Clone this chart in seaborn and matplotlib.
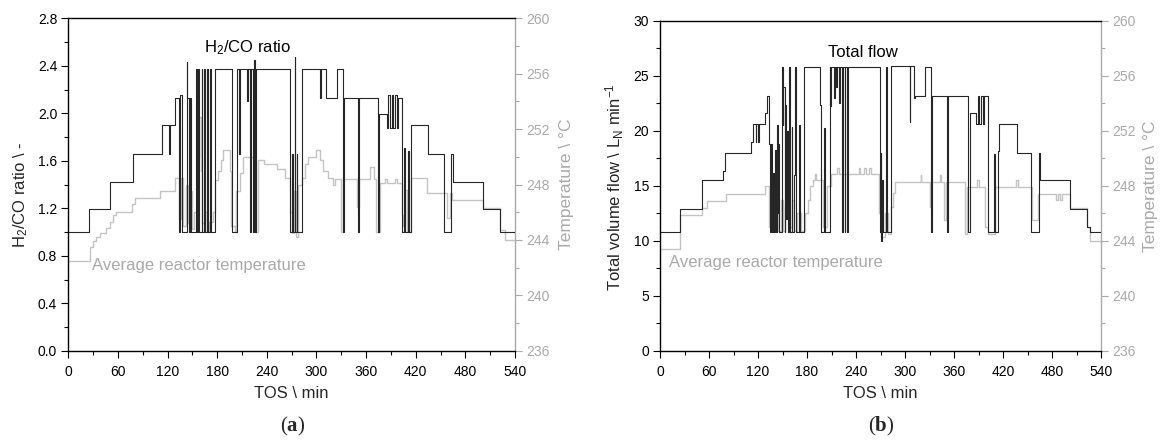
import matplotlib
matplotlib.use("Agg")
import matplotlib.pyplot as plt
import pandas as pd
import seaborn as sns
from matplotlib.ticker import MultipleLocator

# ---------------- data (step breakpoints) ----------------
ratio_t = [0, 24.7, 50.7, 78.6, 113.1, 121.5, 122.5, 129.3, 134.2, 135.5, 137, 143.1, 144, 145.5,
           147, 148, 154, 155, 157, 158.5, 161, 162, 164, 165.5, 167.5, 169, 171, 172.5, 177.3,
           197.5, 198, 203.6, 206, 207, 216.5, 217.5, 220, 221, 223, 224, 225.5, 227, 268, 270,
           271, 273.5, 274.5, 276, 277, 282, 304, 305.5, 311, 324.5, 332.5, 333.5, 350.5, 351.5,
           374.8, 376, 385, 387, 389, 391, 393, 395, 397, 399, 403, 406, 407, 411, 412, 414.3,
           435, 454.3, 462.4, 464.5, 501.7, 521.9, 540]
ratio_v = [1.0, 1.19, 1.42, 1.66, 1.90, 1.66, 1.90, 2.13, 1.0, 2.15, 1.0, 2.43, 2.13, 1.0,
           2.13, 1.0, 2.37, 1.0, 2.37, 1.0, 2.37, 1.0, 2.37, 1.0, 2.37, 1.0, 2.37, 1.0, 2.37,
           1.90, 1.0, 2.37, 1.66, 2.37, 2.10, 2.37, 1.0, 2.37, 1.0, 2.45, 1.0, 2.37, 1.0, 1.66,
           1.0, 2.47, 1.0, 1.66, 1.0, 2.37, 2.13, 2.37, 2.13, 2.37, 1.0, 2.13, 1.0, 2.13,
           1.0, 1.99, 1.88, 2.15, 1.88, 2.15, 1.88, 2.15, 1.88, 2.13, 1.0, 1.71, 1.0, 1.68, 1.0, 1.90,
           1.66, 1.0, 1.66, 1.42, 1.19, 1.0, 1.0]

tempA_t = [0, 26, 30, 34, 38, 45, 50, 54, 58, 77, 81, 111, 129, 134, 136, 139, 142, 145, 147,
           149, 152, 155, 158.4, 160, 162, 165, 168, 170, 175, 177.4, 181, 184, 187.4, 195.4,
           197, 201, 203, 207, 211, 224, 226, 229, 236, 252, 262, 268, 270, 273, 275, 278,
           282, 286, 290, 300, 304, 308, 314, 320, 322, 330, 332, 334, 349, 351, 365, 370,
           372, 377, 383, 385, 395, 397, 403, 405, 407, 410, 414, 433, 458, 461.4, 463.5,
           501.7, 521.9, 528, 540]
tempA_v = [242.5, 243.5, 243.9, 244.2, 244.5, 244.9, 245.3, 245.8, 246.0, 246.6, 247.0, 247.5,
           248.5, 245.5, 248.5, 245.0, 248.0, 245.2, 247.5, 244.8, 246.0, 250.0, 252.9, 249.0,
           245.2, 246.0, 244.6, 245.3, 246.0, 248.3, 249.0, 249.8, 250.5, 249.0, 245.0, 244.6,
           247.5, 248.8, 250.0, 249.8, 244.6, 249.8, 249.5, 249.1, 248.5, 246.0, 244.5, 247.5,
           244.2, 248.0, 248.5, 249.5, 250.0, 250.5, 249.8, 249.0, 248.5, 248.0, 248.4, 244.6,
           248.4, 248.4, 246.4, 248.4, 249.3, 248.4, 244.6, 248.1, 248.4, 248.1, 248.4, 248.1,
           245.8, 245.0, 247.6, 244.6, 248.5, 247.4, 245.6, 247.4, 246.9, 246.3, 244.7, 244.0, 244.0]

flow_t = [0, 24.9, 51.2, 77, 79.3, 111, 113.8, 117, 118, 120, 121, 128.3, 130.6, 133.7, 134.5,
          136, 137, 138.5, 139.5, 141, 142, 143, 144, 145, 146, 149, 150, 151, 152.5, 153.5,
          154.5, 155.5, 156.5, 158, 159, 161, 162, 164, 165, 166, 170.5, 171.5, 176, 195.5,
          196.5, 201, 202, 207.8, 208.5, 209.5, 213, 214, 216, 217, 219, 220, 223, 224, 226,
          227, 229, 230, 269, 270, 271, 272, 273, 277, 278, 283, 305.5, 306.5, 311, 312, 325,
          332.3, 333.3, 351.9, 353, 377, 379, 387, 389, 391, 393, 395, 397, 401.7, 409, 410,
          414, 415, 436.6, 454.8, 463.8, 465, 502.4, 522.8, 526, 540]
flow_v = [10.8, 12.9, 15.5, 16.4, 18.0, 19.0, 20.6, 19.0, 20.6, 19.0, 20.6, 21.6, 23.2, 18.8, 10.8,
          18.8, 10.8, 16.2, 10.8, 18.3, 10.8, 20.5, 12.5, 18.8, 10.8, 25.8, 20.5, 24.0, 10.8, 22.4,
          12.0, 20.0, 10.8, 25.8, 10.8, 20.4, 10.8, 16.0, 25.8, 10.8, 20.5, 10.8, 25.8, 22.4,
          10.8, 20.3, 10.8, 25.8, 22.3, 25.8, 23.0, 25.8, 24.0, 25.8, 22.5, 25.8, 10.8, 25.8, 10.8,
          25.8, 10.8, 25.8, 10.8, 18.0, 10.0, 15.5, 10.8, 25.8, 10.8, 25.9, 20.8, 25.9, 23.0, 23.2, 25.8,
          10.8, 23.2, 10.8, 23.2, 10.8, 21.6, 20.6, 23.2, 20.6, 23.2, 20.6, 23.2, 10.8, 17.9, 10.8,
          18.2, 20.6, 18.0, 10.8, 18.0, 15.5, 12.9, 11.3, 10.8, 10.8]

tempB_t = [0, 25, 51, 58, 80.7, 128.3, 134, 136, 138, 142, 145, 148, 150, 153, 156, 158, 161, 164,
           168, 172, 178, 181, 184, 187, 190, 191, 200, 205, 209, 217, 219, 243, 245, 250, 252,
           256, 258, 268, 270, 275, 279, 282.5, 285, 288, 319, 320, 330, 331, 343, 344, 348, 350,
           373, 376, 388, 391, 398, 402, 410, 436, 438, 455, 463, 485, 487, 490, 492, 502.4,
           522.8, 527, 540]
tempB_v = [243.4, 245.9, 246.4, 246.9, 247.4, 248.0, 245.0, 247.5, 244.8, 246.5, 244.7, 247.0,
           244.7, 246.5, 248.0, 245.0, 247.0, 244.7, 246.0, 244.7, 246.0, 247.0, 248.0, 248.4,
           248.9, 248.4, 245.0, 248.0, 248.9, 249.3, 248.9, 249.3, 248.9, 249.3, 248.9, 249.3,
           248.9, 246.0, 244.3, 246.0, 244.5, 246.5, 247.5, 248.3, 248.8, 248.3, 246.5, 248.3,
           248.8, 248.3, 245.5, 248.3, 244.5, 247.9, 248.4, 247.9, 245.0, 244.5, 247.9, 248.4,
           247.9, 245.5, 247.4, 247.0, 247.4, 247.0, 247.4, 246.4, 245.0, 244.0, 244.0]

x_ticks = [0, 60, 120, 180, 240, 300, 360, 420, 480, 540]
temp_ticks = [236, 240, 244, 248, 252, 256, 260]

# ---------------- style ----------------
sns.set_style("ticks")
plt.rcParams["font.family"] = ["Liberation Sans", "DejaVu Sans"]
plt.rcParams["mathtext.fontset"] = "custom"
plt.rcParams["mathtext.rm"] = "Liberation Sans"
plt.rcParams["mathtext.it"] = "Liberation Sans:italic"
plt.rcParams["mathtext.bf"] = "Liberation Serif:bold"

DARK = "#262626"
LINE_GREY = "#c4c4c4"
AX_GREY = "#a9a9a9"

fig = plt.figure(figsize=(11.6, 4.43), dpi=100)
axA = fig.add_axes([0.0589, 0.2081, 0.3851, 0.7506])
axB = fig.add_axes([0.5690, 0.2077, 0.3802, 0.7449])


def draw(ax, t_main, v_main, t_temp, v_temp, ylim, ymaj, ymin):
    ax2 = ax.twinx()
    sns.lineplot(data=pd.DataFrame({"t": t_temp, "T": v_temp}), x="t", y="T", ax=ax2,
                 color=LINE_GREY, lw=1.0, drawstyle="steps-post", estimator=None,
                 sort=False, legend=False)
    sns.lineplot(data=pd.DataFrame({"t": t_main, "v": v_main}), x="t", y="v", ax=ax,
                 color=DARK, lw=0.8, drawstyle="steps-post", estimator=None,
                 sort=False, legend=False)
    ax.set_zorder(ax2.get_zorder() + 1)
    ax.patch.set_visible(False)

    ax.set_xlim(0, 540)
    ax.set_ylim(*ylim)
    ax2.set_ylim(236, 260)
    ax.set_xticks(x_ticks)
    ax.xaxis.set_minor_locator(MultipleLocator(30))
    ax.yaxis.set_major_locator(MultipleLocator(ymaj))
    ax.yaxis.set_minor_locator(MultipleLocator(ymin))
    ax2.set_yticks(temp_ticks)
    ax2.yaxis.set_minor_locator(MultipleLocator(2))

    ax.tick_params(which="major", direction="out", length=5, width=0.8, colors="black",
                   labelsize=10, pad=3)
    ax.tick_params(which="minor", direction="out", length=3, width=0.8, colors="black")
    ax.tick_params(axis="x", which="major", pad=5)
    ax.tick_params(right=False, top=False, which="both")
    ax2.tick_params(axis="y", which="major", direction="out", length=5, width=0.8,
                    colors=AX_GREY, labelsize=10, pad=3)
    ax2.tick_params(axis="y", which="minor", direction="out", length=3, width=0.8,
                    colors=AX_GREY)

    for s in ["left", "bottom", "top"]:
        ax.spines[s].set_color("black")
        ax.spines[s].set_linewidth(1.0)
        ax2.spines[s].set_visible(False)
    ax.spines["right"].set_visible(False)
    ax2.spines["right"].set_color(AX_GREY)
    ax2.spines["right"].set_linewidth(1.0)

    ax.set_xlabel("TOS \\ min", fontsize=12)
    ax.xaxis.label.set_va("center")
    ax.xaxis.set_label_coords(0.5, -0.128)
    ax2.set_ylabel("Temperature \\ °C", fontsize=12.5, color=AX_GREY)
    ax2.yaxis.label.set_va("center")
    ax2.yaxis.label.set_ha("center")
    return ax2


ax2A = draw(axA, ratio_t, ratio_v, tempA_t, tempA_v, (0, 2.8), 0.4, 0.2)
axA.set_ylabel("H$_2$/CO ratio \\ -", fontsize=12)
axA.yaxis.label.set_va("center")
axA.yaxis.label.set_ha("center")
axA.yaxis.set_label_coords(-0.107, 0.47)
ax2A.yaxis.set_label_coords(1.116, 0.5)
axA.text(216, 2.55, "H$_2$/CO ratio", fontsize=12, color="black", ha="center", va="center")
axA.text(158, 0.717, "Average reactor temperature", fontsize=12, color=AX_GREY,
         ha="center", va="center")

ax2B = draw(axB, flow_t, flow_v, tempB_t, tempB_v, (0, 30), 5, 2.5)
axB.set_ylabel("Total volume flow \\ L$_\\mathrm{N}$ min$^{-1}$", fontsize=12)
axB.yaxis.label.set_va("center")
axB.yaxis.label.set_ha("center")
axB.yaxis.set_label_coords(-0.102, 0.498)
ax2B.yaxis.set_label_coords(1.113, 0.5)
axB.text(248, 27.1, "Total flow", fontsize=12, color="black", ha="center", va="center")
axB.text(142, 8.05, "Average reactor temperature", fontsize=12, color=AX_GREY,
         ha="center", va="center")

fig.text(293 / 1160, 1 - 426 / 443, r"($\mathbf{a}$)", fontsize=15, family="Liberation Serif",
         ha="center", va="center")
fig.text(881 / 1160, 1 - 426 / 443, r"($\mathbf{b}$)", fontsize=15, family="Liberation Serif",
         ha="center", va="center")

fig.savefig("out.png", dpi=100)
